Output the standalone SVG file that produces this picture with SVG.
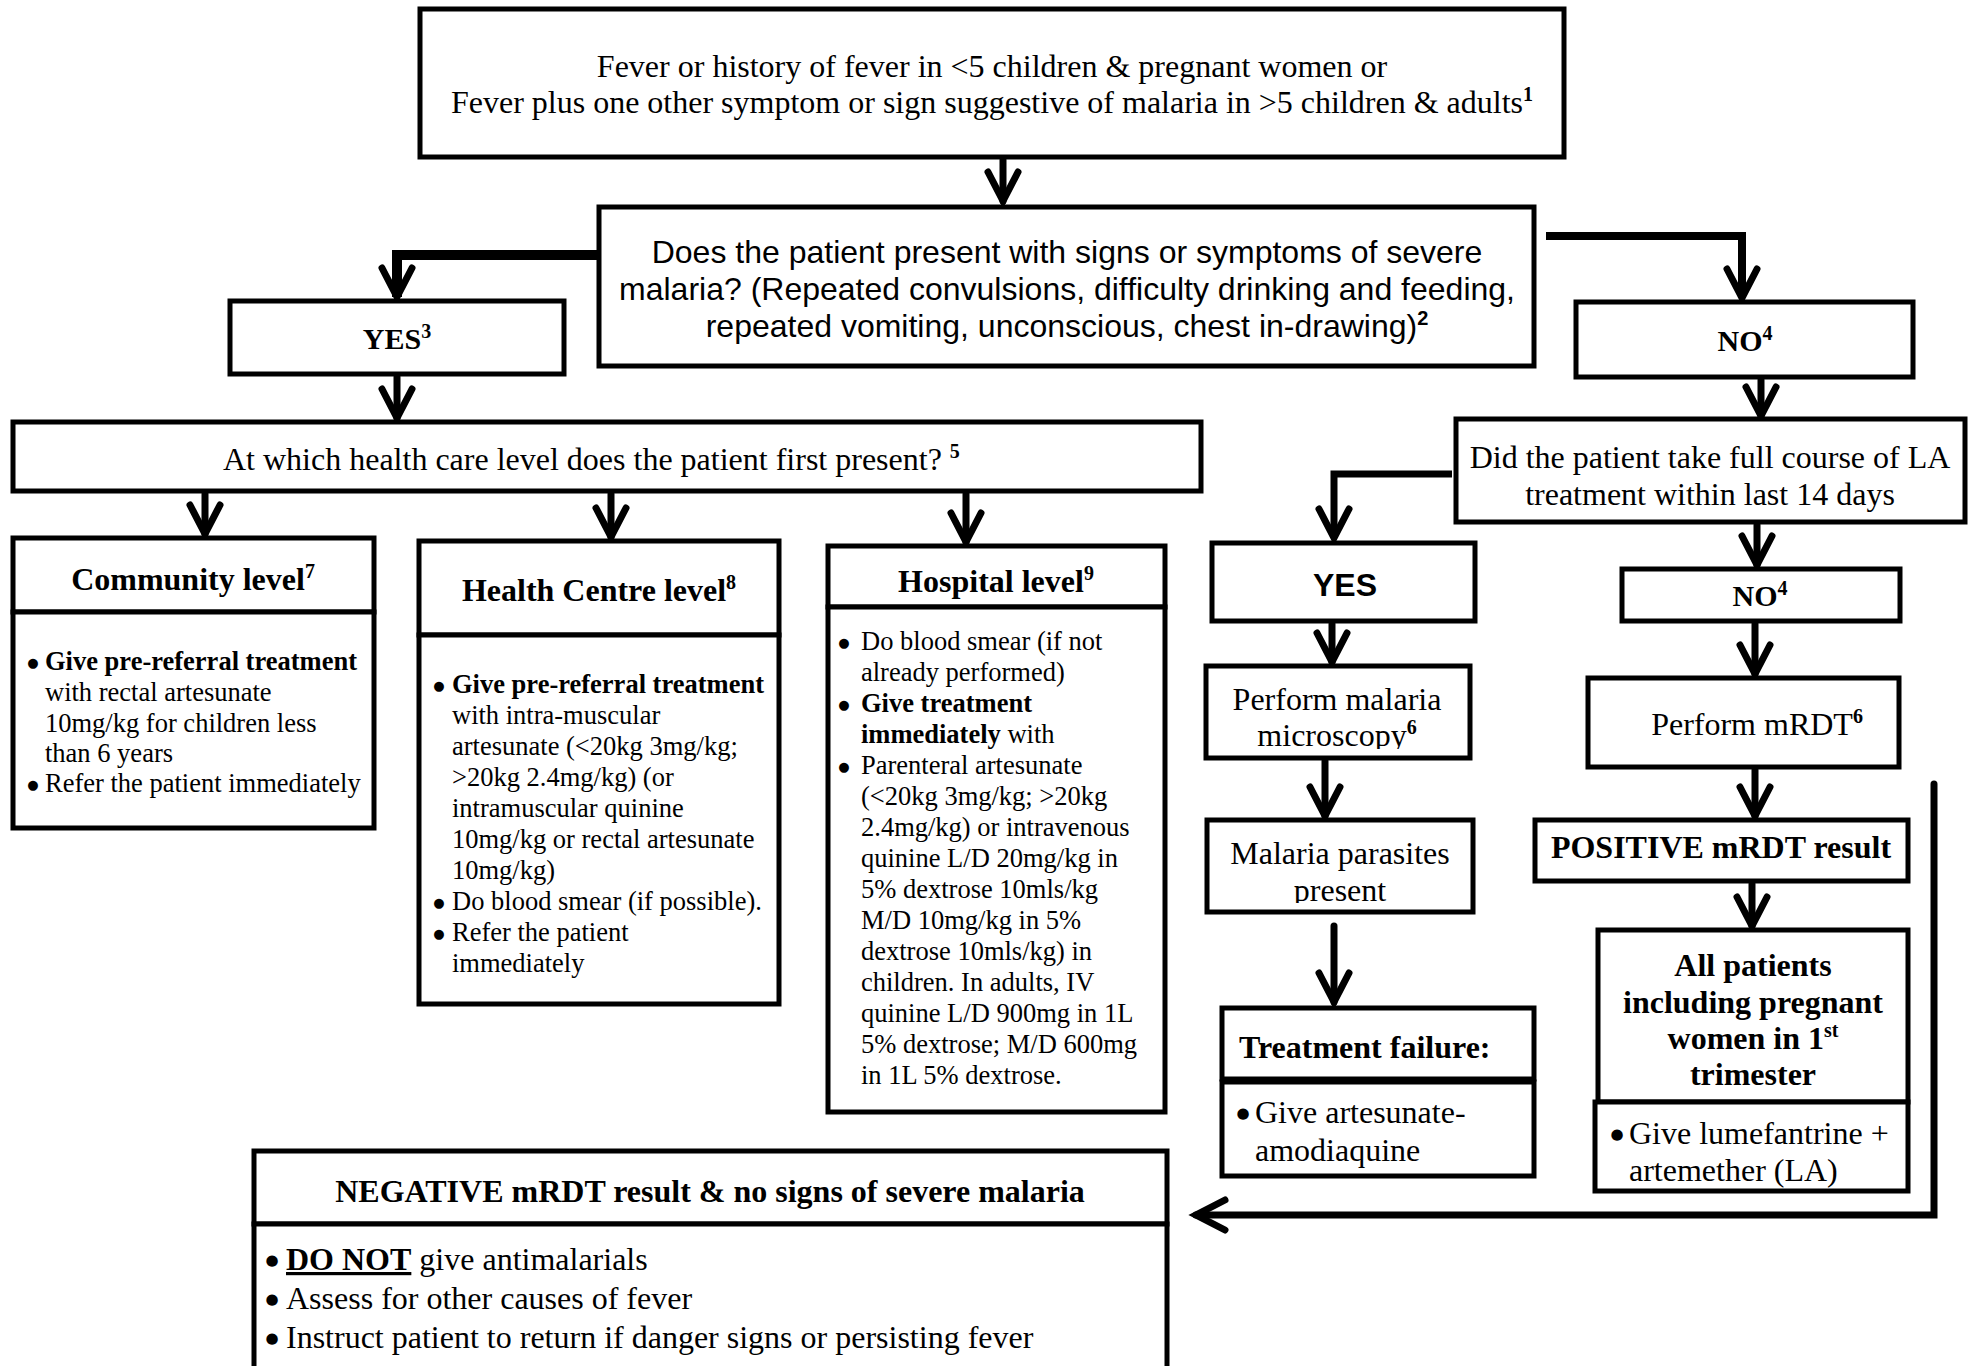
<svg xmlns="http://www.w3.org/2000/svg" width="1968" height="1366" viewBox="0 0 1968 1366">
<style>
.box{fill:#fff;stroke:#000;stroke-width:5}
.t{font-family:"Liberation Serif","Times New Roman",serif;font-size:32px;fill:#000}
.sm{font-size:26.5px}
.a{font-family:"Liberation Sans",Arial,sans-serif}
.b{font-weight:bold}
.c{text-anchor:middle}
.sup{font-size:20px;font-weight:bold}
.bu{font-family:"DejaVu Sans",sans-serif;font-size:13px;text-anchor:middle;fill:#000}
.bu2{font-family:"DejaVu Sans",sans-serif;font-size:15px;text-anchor:middle;fill:#000}
.conn{fill:none;stroke:#000;stroke-width:7;stroke-linecap:round;stroke-linejoin:miter}
</style>
<defs>
<marker id="ah" markerUnits="userSpaceOnUse" markerWidth="50" markerHeight="50" viewBox="-40 -25 50 50" refX="0" refY="0" orient="auto" overflow="visible">
<path d="M-29,-15 L0,0 L-29,15" fill="none" stroke="#000" stroke-width="7" stroke-linecap="round" stroke-linejoin="miter"/>
</marker>
<clipPath id="clipMic"><rect x="1206" y="666" width="264" height="83"/></clipPath>
<clipPath id="clipPar"><rect x="1207" y="820" width="266" height="83"/></clipPath>
</defs>
<rect width="1968" height="1366" fill="#fff"/>

<g id="connectors">
<path class="conn" d="M1003,160 V201" marker-end="url(#ah)"/>
<path class="conn" style="stroke-width:10;stroke-linecap:butt" d="M597,255 H397 V297" marker-end="url(#ah)"/>
<path class="conn" style="stroke-width:8;stroke-linecap:butt" d="M1546,236 H1742 V298" marker-end="url(#ah)"/>
<path class="conn" d="M397,377 V418" marker-end="url(#ah)"/>
<path class="conn" d="M205,494 V534" marker-end="url(#ah)"/>
<path class="conn" d="M611,494 V537" marker-end="url(#ah)"/>
<path class="conn" d="M966,494 V542" marker-end="url(#ah)"/>
<path class="conn" d="M1761,380 V416" marker-end="url(#ah)"/>
<path class="conn" style="stroke-linecap:butt" d="M1452,474 H1334 V538" marker-end="url(#ah)"/>
<path class="conn" d="M1757,525 V565" marker-end="url(#ah)"/>
<path class="conn" d="M1332,624 V662" marker-end="url(#ah)"/>
<path class="conn" d="M1325,761 V816" marker-end="url(#ah)"/>
<path class="conn" d="M1334,926 V1002" marker-end="url(#ah)"/>
<path class="conn" d="M1755,624 V674" marker-end="url(#ah)"/>
<path class="conn" d="M1755,770 V816" marker-end="url(#ah)"/>
<path class="conn" d="M1752,884 V926" marker-end="url(#ah)"/>
<path class="conn" d="M1934,784 V1215 H1196" marker-end="url(#ah)"/>
</g>

<g id="start">
<rect class="box" x="420" y="9" width="1144" height="148"/>
<text class="t c" x="992" y="77">Fever or history of fever in &lt;5 children &amp; pregnant women or</text>
<text class="t c" x="992" y="113">Fever plus one other symptom or sign suggestive of malaria in &gt;5 children &amp; adults<tspan class="sup" dy="-12">1</tspan></text>
</g>

<g id="severe-question">
<rect class="box" x="599" y="207" width="935" height="159"/>
<text class="t a c" x="1067" y="263">Does the patient present with signs or symptoms of severe</text>
<text class="t a c" x="1067" y="300">malaria? (Repeated convulsions, difficulty drinking and feeding,</text>
<text class="t a c" x="1067" y="337">repeated vomiting, unconscious, chest in-drawing)<tspan class="sup" dy="-12">2</tspan></text>
</g>

<g id="yes-severe">
<rect class="box" x="230" y="301" width="334" height="73"/>
<text class="t b c" x="397" y="349" style="font-size:30px">YES<tspan class="sup" dy="-11">3</tspan></text>
</g>

<g id="no-severe">
<rect class="box" x="1576" y="302" width="337" height="75"/>
<text class="t b c" x="1745" y="351" style="font-size:30px">NO<tspan class="sup" dy="-11">4</tspan></text>
</g>

<g id="health-care-level">
<rect class="box" x="13" y="422" width="1188" height="69"/>
<text class="t" x="223" y="470">At which health care level does the patient first present? <tspan class="sup" dy="-12">5</tspan></text>
</g>

<g id="community">
<rect class="box" x="13" y="538" width="361" height="74"/>
<rect class="box" x="13" y="612" width="361" height="216"/>
<text class="t b c" x="193" y="590">Community level<tspan class="sup" dy="-12">7</tspan></text>
<text class="bu" x="33" y="667">●</text>
<text class="t sm b" x="45" y="670">Give pre-referral treatment</text>
<text class="t sm" x="45" y="701">with rectal artesunate</text>
<text class="t sm" x="45" y="732">10mg/kg for children less</text>
<text class="t sm" x="45" y="762">than 6 years</text>
<text class="bu" x="33" y="789">●</text>
<text class="t sm" x="45" y="792">Refer the patient immediately</text>
</g>

<g id="health-centre">
<rect class="box" x="419" y="541" width="360" height="94"/>
<rect class="box" x="419" y="635" width="360" height="369"/>
<text class="t b c" x="599" y="601">Health Centre level<tspan class="sup" dy="-12">8</tspan></text>
<text class="bu" x="439" y="690">●</text>
<text class="t sm b" x="452" y="693">Give pre-referral treatment</text>
<text class="t sm" x="452" y="724">with intra-muscular</text>
<text class="t sm" x="452" y="755">artesunate (&lt;20kg 3mg/kg;</text>
<text class="t sm" x="452" y="786">&gt;20kg 2.4mg/kg) (or</text>
<text class="t sm" x="452" y="817">intramuscular quinine</text>
<text class="t sm" x="452" y="848">10mg/kg or rectal artesunate</text>
<text class="t sm" x="452" y="879">10mg/kg)</text>
<text class="bu" x="439" y="907">●</text>
<text class="t sm" x="452" y="910">Do blood smear (if possible).</text>
<text class="bu" x="439" y="938">●</text>
<text class="t sm" x="452" y="941">Refer the patient</text>
<text class="t sm" x="452" y="972">immediately</text>
</g>

<g id="hospital">
<rect class="box" x="828" y="546" width="337" height="61"/>
<rect class="box" x="828" y="607" width="337" height="505"/>
<text class="t b c" x="996" y="592">Hospital level<tspan class="sup" dy="-12">9</tspan></text>
<text class="bu" x="844" y="647">●</text>
<text class="t sm" x="861" y="650">Do blood smear (if not</text>
<text class="t sm" x="861" y="681">already performed)</text>
<text class="bu" x="844" y="709">●</text>
<text class="t sm b" x="861" y="712">Give treatment</text>
<text class="t sm" x="861" y="743"><tspan class="b">immediately</tspan> with</text>
<text class="bu" x="844" y="771">●</text>
<text class="t sm" x="861" y="774">Parenteral artesunate</text>
<text class="t sm" x="861" y="805">(&lt;20kg 3mg/kg; &gt;20kg</text>
<text class="t sm" x="861" y="836">2.4mg/kg) or intravenous</text>
<text class="t sm" x="861" y="867">quinine L/D 20mg/kg in</text>
<text class="t sm" x="861" y="898">5% dextrose 10mls/kg</text>
<text class="t sm" x="861" y="929">M/D 10mg/kg in 5%</text>
<text class="t sm" x="861" y="960">dextrose 10mls/kg) in</text>
<text class="t sm" x="861" y="991">children. In adults, IV</text>
<text class="t sm" x="861" y="1022">quinine L/D 900mg in 1L</text>
<text class="t sm" x="861" y="1053">5% dextrose; M/D 600mg</text>
<text class="t sm" x="861" y="1084">in 1L 5% dextrose.</text>
</g>

<g id="la-question">
<rect class="box" x="1456" y="419" width="509" height="103"/>
<text class="t c" x="1710" y="468">Did the patient take full course of LA</text>
<text class="t c" x="1710" y="505">treatment within last 14 days</text>
</g>

<g id="yes-la">
<rect class="box" x="1212" y="543" width="263" height="78"/>
<text class="t a b c" x="1345" y="596">YES</text>
</g>

<g id="no-la">
<rect class="box" x="1622" y="569" width="278" height="52"/>
<text class="t b c" x="1760" y="606" style="font-size:30px">NO<tspan class="sup" dy="-11">4</tspan></text>
</g>

<g id="microscopy">
<rect class="box" x="1206" y="666" width="264" height="92"/>
<g clip-path="url(#clipMic)">
<text class="t c" x="1337" y="710">Perform malaria</text>
<text class="t c" x="1337" y="746">microscopy<tspan class="sup" dy="-12">6</tspan></text>
</g>
</g>

<g id="parasites">
<rect class="box" x="1207" y="820" width="266" height="92"/>
<g clip-path="url(#clipPar)">
<text class="t c" x="1340" y="864">Malaria parasites</text>
<text class="t c" x="1340" y="901">present</text>
</g>
</g>

<g id="treatment-failure">
<rect class="box" x="1222" y="1008" width="312" height="71"/>
<rect class="box" x="1222" y="1082" width="312" height="94"/>
<text class="t b" x="1239" y="1058">Treatment failure:</text>
<text class="bu2" x="1243" y="1118">●</text>
<text class="t" x="1255" y="1123">Give artesunate-</text>
<text class="t" x="1255" y="1161">amodiaquine</text>
</g>

<g id="mrdt">
<rect class="box" x="1588" y="678" width="311" height="89"/>
<text class="t c" x="1757" y="735">Perform mRDT<tspan class="sup" dy="-12">6</tspan></text>
</g>

<g id="positive">
<rect class="box" x="1535" y="820" width="373" height="61"/>
<text class="t b c" x="1721" y="858">POSITIVE mRDT result</text>
</g>

<g id="all-patients">
<rect class="box" x="1598" y="930" width="310" height="172"/>
<rect class="box" x="1595" y="1102" width="313" height="89"/>
<text class="t b c" x="1753" y="976">All patients</text>
<text class="t b c" x="1753" y="1013">including pregnant</text>
<text class="t b c" x="1753" y="1049">women in 1<tspan class="sup" dy="-12">st</tspan></text>
<text class="t b c" x="1753" y="1085">trimester</text>
<text class="bu2" x="1617" y="1139">●</text>
<text class="t" x="1629" y="1144">Give lumefantrine +</text>
<text class="t" x="1629" y="1181">artemether (LA)</text>
</g>

<g id="negative">
<rect class="box" x="254" y="1151" width="913" height="73"/>
<rect class="box" x="254" y="1224" width="913" height="150"/>
<text class="t b c" x="710" y="1202">NEGATIVE mRDT result &amp; no signs of severe malaria</text>
<text class="bu2" x="272" y="1265">●</text>
<text class="t" x="286" y="1270"><tspan class="b" text-decoration="underline">DO NOT</tspan> give antimalarials</text>
<text class="bu2" x="272" y="1304">●</text>
<text class="t" x="286" y="1309">Assess for other causes of fever</text>
<text class="bu2" x="272" y="1343">●</text>
<text class="t" x="286" y="1348">Instruct patient to return if danger signs or persisting fever</text>
</g>
</svg>
